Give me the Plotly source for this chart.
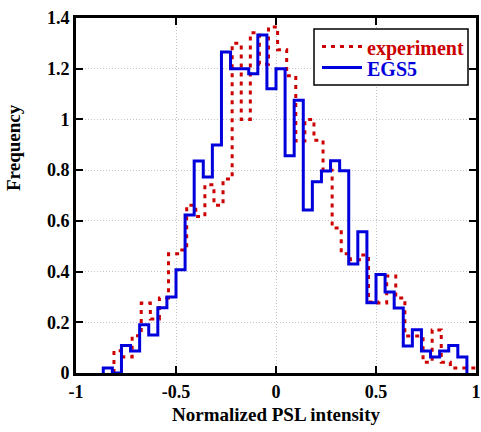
import numpy as np
import plotly.graph_objects as go

# ---- data ----
N_BINS = 44
X_MIN, X_MAX = -1.0, 1.0
EXP_SHIFT = 0.008  # experimental histogram drawn with a slight offset

egs5_values = [0, 0, 0, 0.02, 0, 0.108, 0.087, 0.19, 0.15, 0.257,
               0.30, 0.407, 0.623, 0.836, 0.773, 0.899, 1.266, 1.20, 1.20, 1.18,
               1.333, 1.121, 1.20, 0.857, 1.076, 0.643, 0.754, 0.797, 0.837, 0.798,
               0.43, 0.557, 0.277, 0.388, 0.319, 0.256, 0.106, 0.171, 0.087, 0.063,
               0.087, 0.108, 0.063, 0]

experiment_values = [0, 0, 0, 0, 0.088, 0.063, 0.147, 0.276, 0.213, 0.296,
                     0.47, 0.485, 0.662, 0.617, 0.742, 0.662, 0.765, 1.30, 1.00, 1.342,
                     1.218, 1.365, 1.275, 1.172, 0.915, 1.00, 0.918, 0.80, 0.572, 0.47,
                     0.447, 0.465, 0.28, 0.276, 0.383, 0.296, 0.146, 0.146, 0.042, 0.17,
                     0.042, 0.02, 0.02, 0.02]

x_tickvals = [-1, -0.5, 0, 0.5, 1]
x_ticktext = ["-1", "-0.5", "0", "0.5", "1"]
y_tickvals = [0, 0.2, 0.4, 0.6, 0.8, 1.0, 1.2, 1.4]
y_ticktext = ["0", "0.2", "0.4", "0.6", "0.8", "1", "1.2", "1.4"]

series_names = ["experiment", "EGS5"]

# ---- build ----
edges = np.linspace(X_MIN, X_MAX, N_BINS + 1)


def step_xy(values, shift=0.0):
    """Step outline of a histogram, skipping empty bins at both ends."""
    nz = [i for i, v in enumerate(values) if v > 0]
    first, last = nz[0], nz[-1]
    xs = [edges[first] + shift]
    ys = [0]
    for i in range(first, last + 1):
        xs.append(edges[i] + shift)
        ys.append(values[i])
    xs.append(edges[last + 1] + shift)
    ys.append(0)
    return xs, ys


RED = "#cc0000"
BLUE = "#0000dd"
FONT = "Liberation Serif"

fig = go.Figure()
ex, ey = step_xy(experiment_values, EXP_SHIFT)
fig.add_trace(go.Scatter(
    x=ex, y=ey,
    mode="lines", line=dict(shape="hv", color=RED, width=3, dash="4px,5px"),
    name=series_names[0], showlegend=False))
bx, by = step_xy(egs5_values)
fig.add_trace(go.Scatter(
    x=bx, y=by,
    mode="lines", line=dict(shape="hv", color=BLUE, width=3),
    name=series_names[1], showlegend=False))

axis_common = dict(
    showline=True, linecolor="black", linewidth=3, mirror="allticks",
    ticks="inside", ticklen=7, tickwidth=1.5, tickcolor="black",
    showgrid=True, gridcolor="#c4c4c4", gridwidth=1, griddash="1px,2px",
    zeroline=False, automargin=False,
    tickfont=dict(family=FONT, size=18, color="black", weight="bold"),
)

fig.update_xaxes(range=[X_MIN, X_MAX], tickvals=x_tickvals, ticktext=x_ticktext,
                 title=dict(text="Normalized PSL intensity", standoff=8,
                            font=dict(family=FONT, size=19, color="black", weight="bold")),
                 **axis_common)
fig.update_yaxes(range=[0, 1.4], tickvals=y_tickvals, ticktext=y_ticktext,
                 **axis_common)

# y title
fig.add_annotation(text="Frequency", textangle=-90, xref="paper", yref="paper",
                   x=(14 - 76) / 400, y=(373 - 148) / 355, showarrow=False,
                   xanchor="center", yanchor="middle",
                   font=dict(family=FONT, size=19, color="black", weight="bold"))


# custom legend
def px(x):
    return (x - 76) / 400


def py(y):
    return (373 - y) / 355


fig.add_shape(type="rect", xref="paper", yref="paper",
              x0=px(314), x1=px(468), y0=py(85), y1=py(29),
              line=dict(color="black", width=1.5), fillcolor="white", layer="above")
fig.add_shape(type="line", xref="paper", yref="paper",
              x0=px(322), x1=px(362), y0=py(46.5), y1=py(46.5),
              line=dict(color=RED, width=3, dash="4px,5px"), layer="above")
fig.add_shape(type="line", xref="paper", yref="paper",
              x0=px(322), x1=px(362), y0=py(67.5), y1=py(67.5),
              line=dict(color=BLUE, width=3), layer="above")
fig.add_annotation(text=series_names[0], xref="paper", yref="paper",
                   x=px(365), y=py(48), xanchor="left", yanchor="middle", showarrow=False,
                   font=dict(family=FONT, size=20, color=RED, weight="bold"))
fig.add_annotation(text=series_names[1], xref="paper", yref="paper",
                   x=px(365), y=py(69), xanchor="left", yanchor="middle", showarrow=False,
                   font=dict(family=FONT, size=20, color=BLUE, weight="bold"))

fig.update_layout(
    width=481, height=432,
    margin=dict(l=76, r=5, t=18, b=59),
    paper_bgcolor="white", plot_bgcolor="white",
    showlegend=False,
)

fig.write_html("out.html",
               config={"displayModeBar": False},
               post_script="document.body.style.margin='0';document.body.style.padding='0';")
